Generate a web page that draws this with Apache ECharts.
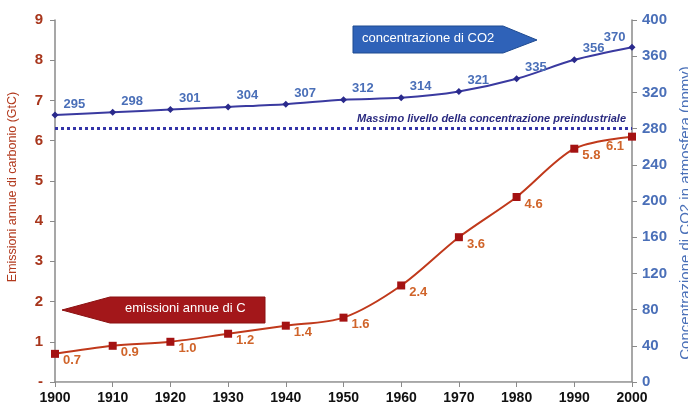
<!DOCTYPE html>
<html><head><meta charset="utf-8">
<script src="https://cdn.jsdelivr.net/npm/echarts@6/dist/echarts.min.js"></script>
<style>html,body{margin:0;padding:0;background:#fff}#c{width:688px;height:413px}</style>
</head><body><div id="c"></div>
<script>
var years = ['1900','1910','1920','1930','1940','1950','1960','1970','1980','1990','2000'];
var emissions = [0.7,0.9,1.0,1.2,1.4,1.6,2.4,3.6,4.6,5.8,6.1];
var co2 = [295,298,301,304,307,312,314,321,335,356,370];
var preindustrial = 280;

var chart = echarts.init(document.getElementById('c'));
var F = 'Liberation Sans, Arial, sans-serif';
var co2Data = co2.map(function(v,i){
  var d = {value:v};
  if (i === co2.length-1) d.label = {position:'left', offset:[2,-10]};
  return d;
});
var emData = emissions.map(function(v,i){
  var d = {value:v};
  if (i === emissions.length-1) d.label = {position:'left', offset:[0,10]};
  return d;
});
chart.setOption({
  animation:false,
  grid:{left:55,right:56,top:20,bottom:31,containLabel:false,outerBoundsMode:'none'},
  xAxis:[{
    type:'category', data:years, boundaryGap:false,
    axisLine:{lineStyle:{color:'#8a8a8a',width:1.5}},
    axisTick:{show:true,length:5,lineStyle:{color:'#8a8a8a'}},
    axisLabel:{color:'#111',fontWeight:'bold',fontSize:14,fontFamily:F,margin:9},
    splitLine:{show:false}
  },{
    type:'category', data:years, boundaryGap:false, position:'top',
    axisLine:{show:true,lineStyle:{color:'#b0b0b0',width:1}},
    axisTick:{show:false}, axisLabel:{show:false}
  }],
  yAxis:[{
    type:'value', min:0, max:9, interval:1,
    name:'Emissioni annue di carbonio (GtC)', nameLocation:'middle', nameGap:36,
    nameTextStyle:{color:'#b23a1e',fontSize:12.5,fontFamily:F,padding:[0,0,0,28]},
    axisLine:{show:true,lineStyle:{color:'#8a8a8a',width:1.5}},
    axisTick:{show:true,length:5,lineStyle:{color:'#8a8a8a'}},
    axisLabel:{color:'#a8361c',fontWeight:'bold',fontSize:15,fontFamily:F,margin:12,
      formatter:function(v){return v===0?'-':v;}},
    splitLine:{show:false}
  },{
    type:'value', min:0, max:400, interval:40, position:'right',
    name:'Concentrazione di CO2 in atmosfera (ppmv)', nameLocation:'middle', nameGap:44,
    nameRotate:90,
    nameTextStyle:{color:'#4a70b8',fontSize:15,fontFamily:F,padding:[0,24,0,0]},
    axisLine:{show:true,lineStyle:{color:'#8a8a8a',width:1.5}},
    axisTick:{show:true,length:5,lineStyle:{color:'#8a8a8a'}},
    axisLabel:{color:'#4a6fb8',fontWeight:'bold',fontSize:15,fontFamily:F,margin:10},
    splitLine:{show:false}
  }],
  series:[{
    name:'CO2', type:'line', yAxisIndex:1, data:co2Data, smooth:0.3,
    symbol:'diamond', symbolSize:7,
    lineStyle:{color:'#3a3aa0',width:2},
    itemStyle:{color:'#2a2a8c'},
    label:{show:true,position:'right',distance:5,offset:[0,-11],color:'#4a6fb8',
      fontWeight:'bold',fontSize:13,fontFamily:F},
    markLine:{
      silent:true, symbol:'none',
      lineStyle:{color:'#3434a8',type:'dotted',width:3},
      label:{show:true,position:'insideEndTop',formatter:'Massimo livello della concentrazione preindustriale',
        color:'#2a2a80',fontStyle:'italic',fontWeight:'bold',fontSize:11,fontFamily:F,distance:[6,4]},
      data:[{yAxis:preindustrial}]
    }
  },{
    name:'Emissioni', type:'line', yAxisIndex:0, data:emData, smooth:0.3,
    symbol:'rect', symbolSize:8,
    lineStyle:{color:'#c0391b',width:2},
    itemStyle:{color:'#a41212'},
    label:{show:true,position:'right',distance:4,offset:[0,7],color:'#d0642a',
      fontWeight:'bold',fontSize:13,fontFamily:F,
      formatter:function(p){return Number(p.value).toFixed(1);}}
  }],
  graphic:[{
    type:'polygon', shape:{points:[[353,26],[503,26],[537,40],[503,53],[353,53]]},
    style:{fill:'#2f62b8',stroke:'#1e4a90',lineWidth:1}
  },{
    type:'text', left:362, top:32,
    style:{text:'concentrazione di CO2',fill:'#fff',font:'13px '+F}
  },{
    type:'polygon', shape:{points:[[265,297],[110,297],[62,310],[110,323],[265,323]]},
    style:{fill:'#a3171a',stroke:'#8a1010',lineWidth:1}
  },{
    type:'text', left:125, top:302,
    style:{text:'emissioni annue di C',fill:'#fff',font:'13px '+F}
  }]
});
</script></body></html>
